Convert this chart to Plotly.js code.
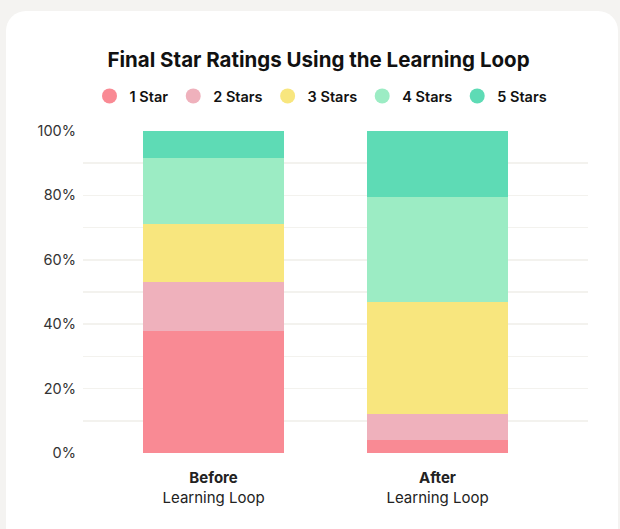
<!DOCTYPE html>
<html>
<head>
<meta charset="utf-8">
<script src="https://cdn.plot.ly/plotly-3.0.1.min.js"></script>
<style>
  html, body { margin: 0; padding: 0; background: #f4f3f1; width: 620px; height: 529px; overflow: hidden; }
  #card { position: absolute; left: 6px; top: 11px; width: 612px; height: 560px; background: #ffffff; border-radius: 20px; }
  #chart { position: absolute; left: 0; top: 0; width: 620px; height: 529px; }
</style>
</head>
<body>
<div id="card"></div>
<div id="chart"></div>
<script>
const categories = ["<b>Before</b><br>Learning Loop", "<b>After</b><br>Learning Loop"];
const seriesNames = ["1 Star", "2 Stars", "3 Stars", "4 Stars", "5 Stars"];
const oneStar   = [38, 4];
const twoStars  = [15, 8];
const threeStars= [18, 35];
const fourStars = [20.5, 32.5];
const fiveStars = [8.5, 20.5];
const colors = ["#f98a94", "#efb1bc", "#f8e67e", "#9cecc4", "#5edbb5"];
const yTickVals = [0, 20, 40, 60, 80, 100];
const yTickText = ["0%", "20%", "40%", "60%", "80%", "100%"];

const seriesValues = [oneStar, twoStars, threeStars, fourStars, fiveStars];
const xIdx = categories.map((c, i) => i);

const traces = [];
seriesValues.forEach((vals, i) => {
  traces.push({
    type: "bar", x: xIdx, y: vals, name: seriesNames[i],
    marker: { color: colors[i], line: { width: 0 } },
    width: 0.63, showlegend: false, hoverinfo: "y+name"
  });
});
seriesValues.forEach((vals, i) => {
  traces.push({
    type: "scatter", mode: "markers", x: [null], y: [null], name: seriesNames[i],
    marker: { color: colors[i], size: 15, symbol: "circle" }, showlegend: true
  });
});

const layout = {
  width: 620, height: 529,
  paper_bgcolor: "rgba(0,0,0,0)", plot_bgcolor: "rgba(0,0,0,0)",
  margin: { l: 83, r: 32, t: 131, b: 76 },
  barmode: "stack",
  font: { family: "Inter, 'Noto Sans', sans-serif", color: "#222" },
  title: {
    text: "<b>Final Star Ratings Using the Learning Loop</b>",
    font: { size: 20.5, color: "#111", family: "Inter, sans-serif" },
    x: 318.5 / 620, xref: "container", xanchor: "center",
    y: 1 - 60 / 529, yref: "container", yanchor: "middle"
  },
  legend: {
    orientation: "h", x: 321 / 620, xref: "container", xanchor: "center",
    y: 1 - 96 / 529, yref: "container", yanchor: "middle",
    font: { size: 14.5, color: "#111", family: "Inter, sans-serif", weight: 600 },
    itemwidth: 30, tracegroupgap: 0, traceorder: "normal"
  },
  xaxis: {
    range: [-0.583, 1.672], tickvals: xIdx, ticktext: categories,
    showgrid: false, zeroline: false, showline: false, ticks: "",
    ticklabelstandoff: 14,
    tickfont: { size: 15, color: "#222" }, fixedrange: true
  },
  yaxis: {
    range: [0, 100], tickvals: yTickVals, ticktext: yTickText,
    showgrid: true, gridcolor: "#f3f2ee", gridwidth: 1.6,
    minor: { dtick: 10, showgrid: true, gridcolor: "#f3f2ee", gridwidth: 1.6 },
    zeroline: false, showline: false, ticks: "",
    ticklabelstandoff: 6,
    tickfont: { size: 14.5, color: "#333" }, fixedrange: true
  }
};

Plotly.newPlot("chart", traces, layout, { displayModeBar: false, staticPlot: true });
</script>
</body>
</html>
